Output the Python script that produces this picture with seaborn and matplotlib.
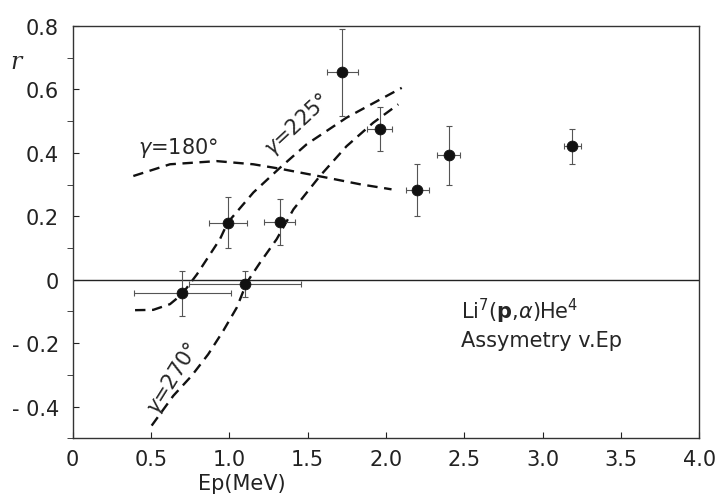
import numpy as np
import pandas as pd
import matplotlib
matplotlib.use("Agg")
import matplotlib.pyplot as plt
import seaborn as sns

# measured asymmetry points
ep = [0.70, 0.99, 1.32, 1.72, 1.96, 2.20, 2.40, 3.19, 1.10]
r_val = [-0.043, 0.180, 0.183, 0.654, 0.476, 0.283, 0.392, 0.421, -0.013]
ep_err = [0.31, 0.12, 0.10, 0.10, 0.08, 0.072, 0.072, 0.053, 0.355]
r_err = [0.07, 0.08, 0.072, 0.137, 0.07, 0.081, 0.093, 0.055, 0.04]

# theory curves
g180_x = [0.387, 0.621, 0.919, 1.153, 1.323, 1.599, 1.834, 2.035]
g180_y = [0.327, 0.364, 0.374, 0.364, 0.350, 0.324, 0.301, 0.285]

g225_x = [0.398, 0.514, 0.621, 0.697, 0.793, 0.94, 0.989, 1.153, 1.323,
          1.493, 1.748, 1.961, 2.10]
g225_y = [-0.096, -0.095, -0.077, -0.046, 0.017, 0.128, 0.180, 0.275, 0.353,
          0.427, 0.511, 0.568, 0.605]

g270_x = [0.504, 0.642, 0.759, 0.865, 0.961, 1.047, 1.111, 1.196, 1.302,
          1.409, 1.578, 1.748, 1.918, 2.078]
g270_y = [-0.460, -0.366, -0.303, -0.235, -0.161, -0.088, -0.009, 0.054, 0.128,
          0.222, 0.327, 0.421, 0.495, 0.553]

x_ticks = [0, 0.5, 1.0, 1.5, 2.0, 2.5, 3.0, 3.5, 4.0]
x_labels = ["0", "0.5", "1.0", "1.5", "2.0", "2.5", "3.0", "3.5", "4.0"]
y_ticks = [-0.4, -0.2, 0, 0.2, 0.4, 0.6, 0.8]
y_labels = ["- 0.4", "- 0.2", "0", "0.2", "0.4", "0.6", "0.8"]

sns.set_style("ticks")
plt.rcParams['font.family'] = ['DejaVu Sans']
plt.rcParams['mathtext.fontset'] = 'dejavusans'

fig = plt.figure(figsize=(7.18, 5.02), dpi=100)
ax = fig.add_axes([72.7 / 718, (502 - 439.3) / 502, 626.7 / 718, 412.3 / 502])

dash = (0, (4.4, 2.8))
for cx, cy in [(g180_x, g180_y), (g225_x, g225_y), (g270_x, g270_y)]:
    sns.lineplot(x=cx, y=cy, ax=ax, color="#111111", lw=1.7, sort=False,
                 linestyle=dash, estimator=None)

ax.axhline(0, color="#222222", lw=1.0)

ax.errorbar(ep, r_val, xerr=ep_err, yerr=r_err, fmt="none", ecolor="#555555",
            elinewidth=0.8, capsize=2.5, capthick=0.8)
df = pd.DataFrame({"ep": ep, "r": r_val})
sns.scatterplot(data=df, x="ep", y="r", ax=ax, color="#111111", s=60,
                edgecolor="#111111", zorder=5)

ax.set_xlim(0, 4.0)
ax.set_ylim(-0.5, 0.8)
ax.set_xticks(x_ticks)
ax.set_xticklabels(x_labels)
ax.set_yticks(y_ticks)
ax.set_yticklabels(y_labels)
ax.set_yticks(np.arange(-0.5, 0.81, 0.1), minor=True)
ax.tick_params(axis="both", direction="in", labelsize=15, colors="#222222")
ax.tick_params(axis="x", length=4, pad=8)
ax.tick_params(axis="y", which="both", length=4, pad=10)
ax.tick_params(axis="x", which="minor", length=0)
for s in ax.spines.values():
    s.set_visible(True)
    s.set_linewidth(1.0)
    s.set_color("#333333")

ax.set_xlabel("Ep(MeV)", fontsize=15, color="#222222")
ax.set_ylabel("")
ax.xaxis.set_label_coords(0.27, -0.085)
ax.text(-0.09, 0.913, "r", transform=ax.transAxes, fontsize=17,
        family="DejaVu Serif", style="italic", ha="center", va="center")

ax.text(0.417, 0.417, r"$\gamma$=180°", fontsize=15, ha="left", va="center")
ax.text(1.43, 0.49, r"$\gamma$=225°", fontsize=15, ha="center", va="center",
        rotation=43, rotation_mode="anchor")
ax.text(0.64, -0.31, r"$\gamma$=270°", fontsize=15, ha="center", va="center",
        rotation=58, rotation_mode="anchor")

ax.text(2.476, -0.098, r"Li$^7$($\mathbf{p}$,$\alpha$)He$^4$", fontsize=15,
        ha="left", va="center")
ax.text(2.476, -0.189, "Assymetry v.Ep", fontsize=15, ha="left", va="center")

fig.savefig("out.png", dpi=100)
